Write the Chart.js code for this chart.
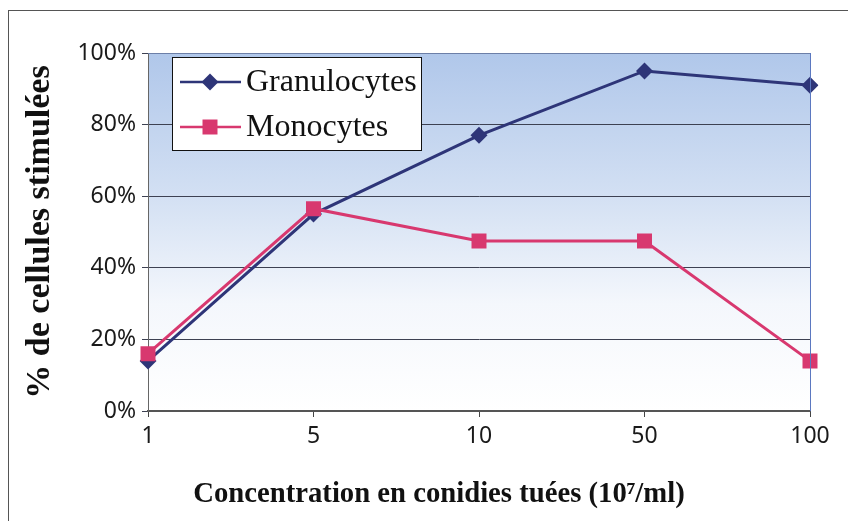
<!DOCTYPE html>
<html>
<head>
<meta charset="utf-8">
<script src="https://cdn.jsdelivr.net/npm/chart.js@4/dist/chart.umd.min.js"></script>
<style>
  html, body { margin: 0; padding: 0; background: #fff; }
  #wrap { position: relative; width: 848px; height: 521px; }
  #frame { position: absolute; left: 8px; top: 10px; right: -2px; bottom: -2px;
           border-top: 1px solid #555; border-left: 1px solid #555; }
  canvas { position: absolute; left: 0; top: 0; }
</style>
</head>
<body>
<div id="wrap">
  <div id="frame"></div>
  <canvas id="chart" width="848" height="521"></canvas>
</div>
<script>
// concentration (10^7/ml)
var concentrations = ['1', '5', '10', '50', '100'];
// % stimulated cells
var granulocytes = [14, 55, 77, 95, 91];
var monocytes = [16, 56.5, 47.5, 47.5, 14];

var yTicks = [0, 20, 40, 60, 80, 100];
var xTitle = 'Concentration en conidies tuées (10⁷/ml)';

var navy = '#2e3578';
var pink = '#d8386f';

// background gradient + top/right border of the plot area
var plotBg = {
  id: 'plotBg',
  beforeDraw: function(chart) {
    var ctx = chart.ctx, a = chart.chartArea;
    var g = ctx.createLinearGradient(0, a.top, 0, a.bottom);
    g.addColorStop(0, '#b0c7ea');
    g.addColorStop(0.4, '#d3e0f3');
    g.addColorStop(0.7, '#f4f7fc');
    g.addColorStop(1, '#ffffff');
    ctx.save();
    ctx.fillStyle = g;
    ctx.fillRect(a.left, a.top, a.right - a.left, a.bottom - a.top);
    ctx.restore();
  },
  afterDraw: function(chart) {
    var ctx = chart.ctx, a = chart.chartArea;
    ctx.save();
    ctx.lineWidth = 1;
    ctx.strokeStyle = '#6c7fa8';
    ctx.beginPath();
    ctx.moveTo(a.left, a.top + 0.5);
    ctx.lineTo(a.right, a.top + 0.5);
    ctx.stroke();
    ctx.strokeStyle = '#5b78c0';
    ctx.beginPath();
    ctx.moveTo(a.right + 0.5, a.top);
    ctx.lineTo(a.right + 0.5, a.bottom);
    ctx.stroke();
    // x axis title, centred a bit left of the plot centre like the original
    ctx.fillStyle = '#111';
    ctx.font = 'bold 28.7px "Liberation Serif", serif';
    ctx.textAlign = 'center';
    ctx.textBaseline = 'middle';
    ctx.fillText(xTitle, 439, 495);
    ctx.restore();
  }
};

// boxed legend inside the plot, top left
var boxLegend = {
  id: 'boxLegend',
  afterDraw: function(chart) {
    var ctx = chart.ctx;
    var x = 172, y = 57, w = 249, h = 93;
    ctx.save();
    ctx.fillStyle = '#fff';
    ctx.fillRect(x, y, w, h);
    ctx.strokeStyle = '#111';
    ctx.lineWidth = 1;
    ctx.strokeRect(x + 0.5, y + 0.5, w, h);
    var rows = [82, 127];
    chart.data.datasets.forEach(function(ds, i) {
      var cy = rows[i];
      ctx.strokeStyle = ds.borderColor;
      ctx.lineWidth = 2.5;
      ctx.beginPath();
      ctx.moveTo(180, cy);
      ctx.lineTo(241, cy);
      ctx.stroke();
      ctx.fillStyle = ds.backgroundColor;
      ctx.beginPath();
      if (ds.pointStyle === 'rectRot') {
        ctx.moveTo(210, cy - 8.5);
        ctx.lineTo(218.5, cy);
        ctx.lineTo(210, cy + 8.5);
        ctx.lineTo(201.5, cy);
        ctx.closePath();
      } else {
        ctx.rect(202.5, cy - 7.5, 15, 15);
      }
      ctx.fill();
      ctx.fillStyle = '#111';
      ctx.font = '32px "Liberation Serif", serif';
      ctx.textBaseline = 'middle';
      ctx.fillText(ds.label, 246, cy + 1);
    });
    ctx.restore();
  }
};

new Chart(document.getElementById('chart').getContext('2d'), {
  type: 'line',
  data: {
    labels: concentrations,
    datasets: [{
      label: 'Granulocytes',
      data: granulocytes,
      borderColor: navy,
      backgroundColor: navy,
      borderWidth: 3,
      pointStyle: 'rectRot',
      pointRadius: 8.5,
      pointBorderWidth: 0,
      tension: 0,
      order: 1
    }, {
      label: 'Monocytes',
      data: monocytes,
      borderColor: pink,
      backgroundColor: pink,
      borderWidth: 3,
      pointStyle: 'rect',
      pointRadius: 10.6,
      pointBorderWidth: 0,
      tension: 0,
      order: 0
    }]
  },
  options: {
    responsive: false,
    animation: false,
    layout: { padding: { left: 0, top: 53, right: 38, bottom: 0 } },
    plugins: {
      legend: { display: false },
      tooltip: { enabled: false }
    },
    scales: {
      x: {
        type: 'category',
        offset: false,
        afterFit: function(s) { s.height = 110; },
        grid: { drawOnChartArea: false, color: '#444', tickLength: 6 },
        border: { color: '#555', width: 2 },
        ticks: {
          color: '#1a1a1a', padding: 6,
          font: { family: '"Noto Sans", sans-serif', size: 23 }
        }
      },
      y: {
        min: 0,
        max: 100,
        afterFit: function(s) { s.width = 148; },
        afterBuildTicks: function(s) {
          s.ticks = yTicks.map(function(v) { return { value: v }; });
        },
        grid: { color: '#3d4152', lineWidth: 1, tickLength: 6 },
        border: { color: '#666', width: 1 },
        ticks: {
          color: '#1a1a1a', padding: 6,
          font: { family: '"Noto Sans", sans-serif', size: 23 },
          callback: function(v) { return v + '%'; }
        },
        title: {
          display: true,
          text: '% de cellules stimulées',
          color: '#111',
          font: { family: '"Liberation Serif", serif', size: 34, weight: 'bold' },
          padding: { top: 20, bottom: 0 }
        }
      }
    }
  },
  plugins: [plotBg, boxLegend]
});
</script>
</body>
</html>
